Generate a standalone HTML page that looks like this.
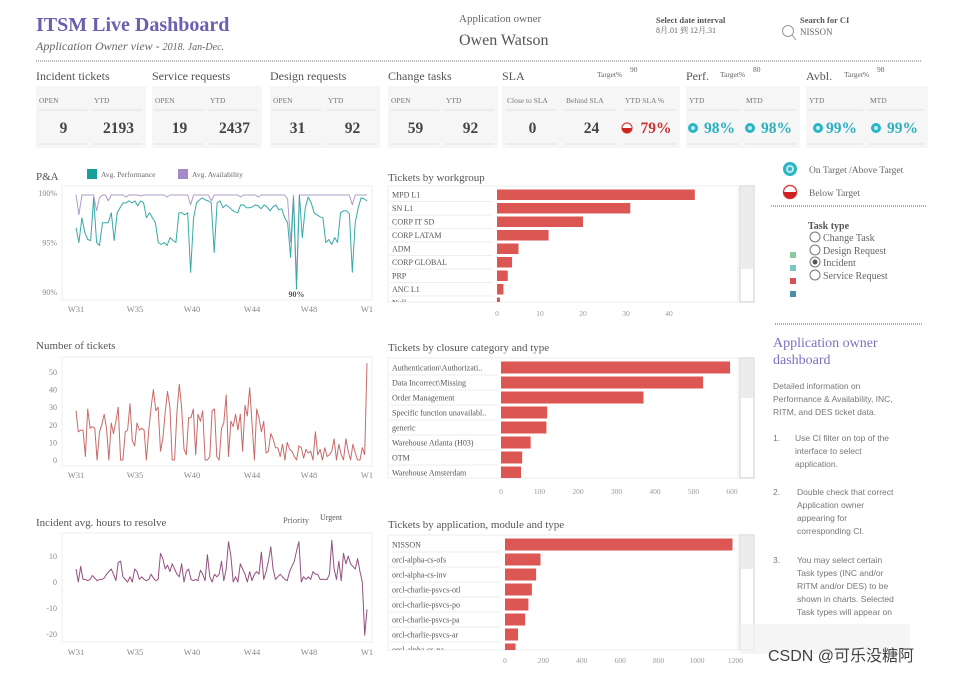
<!DOCTYPE html>
<html><head><meta charset="utf-8"><style>
body{margin:0;background:#fff;width:954px;height:673px;overflow:hidden}
svg{display:block}
.s{font-family:"Liberation Serif","Noto Serif CJK SC",serif}
.a{font-family:"Liberation Sans","Noto Sans CJK SC",sans-serif}
</style></head><body>
<svg id="c" width="954" height="673" viewBox="0 0 954 673" xmlns="http://www.w3.org/2000/svg" class="s">
<g>
<text x="36" y="31" font-size="20" font-weight="bold" fill="#6a5fb0">ITSM Live Dashboard</text>
<text x="36" y="50" font-size="12" font-style="italic" fill="#666">Application Owner view  -  <tspan font-size="10">2018. Jan-Dec.</tspan></text>
<text x="459" y="22" font-size="11" fill="#666">Application owner</text>
<text x="459" y="45" font-size="16" fill="#555">Owen Watson</text>
<text x="656" y="23" font-size="8.5" font-weight="bold" fill="#555">Select date interval</text>
<text x="656" y="33" font-size="8" fill="#666">8月.01 到 12月.31</text>
<g><circle cx="788" cy="31" r="5.5" fill="none" stroke="#999" stroke-width="1"/><line x1="792" y1="35" x2="796" y2="40" stroke="#999"/></g>
<text x="800" y="23" font-size="8.5" font-weight="bold" fill="#555">Search for CI</text>
<text x="800" y="35" font-size="9" fill="#666">NISSON</text>
<line x1="36" y1="61" x2="922" y2="61" stroke="#bbb" stroke-dasharray="1,1" stroke-width="2"/>
</g>
<g id="kpi"></g>
<g id="charts"></g>
<g>
<g><circle cx="790" cy="169" r="7" fill="#2bb5c4"/><circle cx="790" cy="169" r="4" fill="#fff" opacity=".7"/><circle cx="790" cy="169" r="2" fill="#2bb5c4"/>
<text x="809" y="173" font-size="9.5" fill="#666">On Target /Above Target</text></g>
<g><circle cx="790" cy="192" r="6.5" fill="#fff" stroke="#d44" stroke-width="1.5"/><path d="M783.5 192 A6.5 6.5 0 0 0 796.5 192Z" fill="#c22"/>
<text x="809" y="196" font-size="9.5" fill="#666">Below Target</text></g>
<line x1="771" y1="206" x2="926" y2="206" stroke="#aaa" stroke-dasharray="1,1" stroke-width="2"/>
<text x="808" y="229" font-size="10" font-weight="bold" fill="#555">Task type</text>
<g>
<circle cx="815" cy="237" r="5" fill="#fff" stroke="#777"/><text x="823" y="241" font-size="10" fill="#666">Change Task</text>
<circle cx="815" cy="250" r="5" fill="#fff" stroke="#777"/><text x="823" y="254" font-size="10" fill="#666">Design Request</text>
<circle cx="815" cy="262" r="5" fill="#fff" stroke="#777"/><circle cx="815" cy="262" r="2.5" fill="#555"/><text x="823" y="266" font-size="10" fill="#666">Incident</text>
<circle cx="815" cy="275" r="5" fill="#fff" stroke="#777"/><text x="823" y="279" font-size="10" fill="#666">Service Request</text>
</g>
<rect x="790" y="252" width="6" height="6" fill="#8cc8a0"/><rect x="790" y="265" width="6" height="6" fill="#78c8c8"/><rect x="790" y="278" width="6" height="6" fill="#d85050"/><rect x="790" y="291" width="6" height="6" fill="#4a90a8"/>
<line x1="775" y1="324" x2="922" y2="324" stroke="#aaa" stroke-dasharray="1,1" stroke-width="2"/>
<text x="773" y="347" font-size="14" fill="#7a70c0">Application owner</text>
<text x="773" y="364" font-size="14" fill="#7a70c0">dashboard</text>
<g class="a" font-size="8.5" fill="#777">
<text x="773" y="389">Detailed information on</text>
<text x="773" y="402">Performance &amp; Availability, INC,</text>
<text x="773" y="415">RITM, and DES ticket data.</text>
<text x="773" y="441">1.</text><text x="795" y="441">Use CI filter on top of the</text><text x="795" y="454">interface to select</text><text x="795" y="467">application.</text>
<text x="773" y="495">2.</text><text x="797" y="495">Double check that correct</text><text x="797" y="508">Application owner</text><text x="797" y="521">appearing for</text><text x="797" y="534">corresponding CI.</text>
<text x="773" y="563">3.</text><text x="797" y="563">You may select certain</text><text x="797" y="576">Task types (INC and/or</text><text x="797" y="589">RITM and/or DES) to be</text><text x="797" y="602">shown in charts. Selected</text><text x="797" y="615">Task types will appear on</text>
</g>
<rect x="740" y="624" width="170" height="30" fill="#f2f2f2" opacity=".8"/>
<text x="768" y="661" font-size="16" fill="#444" class="a">CSDN @可乐没糖阿</text>
</g>
</svg>
<script>
// ---- data ----
const kpiGroups=["Incident tickets","Service requests","Design requests","Change tasks"];
const kpiOpen=[9,19,31,59];
const kpiYtd=[2193,2437,92,92];
const slaValues=[0,24,79];
const perfValues=[98,98];
const avblValues=[99,99];
const targets=[90,80,98];

const weekLabels=["W31","W35","W40","W44","W48","W1"];
const perfSeries=[96.5,95,97.5,96,95.3,95.2,99.5,95,94.7,97,97,97,98,95.2,98,98.5,99,99,99.2,99,99.2,98.7,99.2,99,97.5,98,97.5,97,95,94.8,95,94.7,95.5,95.2,95,98,98,97.8,98,92,97.5,99,99.3,99.5,99.3,99.2,99,94,99,99.2,98.5,98.8,98.6,98.3,98.1,98,98.8,98.8,98.5,98.5,98.6,98.8,98.7,98.4,98.8,98.6,98.2,98.6,98.8,98.3,98.4,97.5,97,93.5,99.5,90.3,99.8,95.5,98.5,99.6,99,98,97.8,97.6,97.5,95,95.3,94.8,95.5,95,98,98.2,98.2,97.9,92,97,98.5,99.5,99.4,99.2];
const availSeries=[99.8,97.8,99.8,99.8,99.8,99.8,99.8,98.2,99.5,99.8,99.8,99.2,99.8,99.8,99.8,99.8,99.8,99.6,99.8,99.8,99.8,99.8,99.7,99.8,99.8,99.8,99.8,99.8,99.8,99.8,99.8,99.6,99.8,99.8,99.8,99.8,99.8,99.8,99.8,98.8,99.8,99.8,99.8,99.8,99.8,99.8,99.2,99.8,99.8,99.8,99.8,99.8,99.8,99.8,99.8,99.8,99.6,99.8,99.8,99.8,99.8,99.8,99.6,99.8,99.8,99.8,99.8,99.8,99.8,99.8,99.8,99.8,99.4,95,99.8,91,99.8,99.8,99.8,99.8,99.8,99.8,99.8,99.8,99.8,99.8,99.8,99.8,99.8,99.8,99.8,99.8,99.8,99.8,98.8,99.8,99.8,99.8,99.8,99.8];
const ticketSeries=[28,16,17,17,2,29,18,19,18,0,16,20,26,18,0,21,15,22,30,0,0,16,17,32,11,8,21,17,18,17,0,17,30,40,28,30,5,12,27,39,30,0,0,27,43,30,6,3,24,24,29,3,26,22,28,0,0,2,28,29,2,0,18,21,37,2,22,19,26,17,26,5,31,25,41,21,0,29,24,16,22,4,5,15,12,7,7,2,9,0,10,6,5,2,0,8,7,1,6,4,5,0,16,3,6,0,7,2,3,5,12,0,9,3,0,12,5,0,9,4,0,0,7,3,55];
const hourSeries=[5,0,6,1,1,0.5,1,2.5,1.5,0.5,1,1,1.5,3,4,5,3,0.5,7.5,8,2,1,0,2,0,5,4,1,2,1,0.5,1,3,1.5,0.5,1,11,9,5,6.5,4,7,5,3,2,7,0,4,5,1,0.5,1,0.5,4.5,3,0.5,10.5,2,0,3,2,3,8,0.5,5,15.5,10,0,2,0,7,5,3,0,4,0.5,3,4,3,11.5,1,4,8,13.5,5,1,2,3,2,1,0.5,4,6,8,12,15.5,0,2,1,2,1,4,3,3,1,1,1,1,3,16,5,1,8,0.5,11,7,10,7,6,5,9,4,0,-20.5,-10.5];

const wgLabels=["MPD L1","SN L1","CORP IT SD","CORP LATAM","ADM","CORP GLOBAL","PRP","ANC L1","Null"];
const wgValues=[46,31,20,12,5,3.5,2.5,1.5,0.7];
const wgTicks=[0,10,20,30,40];
const clLabels=["Authentication\\Authorizati..","Data Incorrect\\Missing","Order Management","Specific function unavailabl..","generic","Warehouse Atlanta (H03)","OTM","Warehouse Amsterdam"];
const clValues=[595,525,370,120,118,77,55,52];
const clTicks=[0,100,200,300,400,500,600];
const apLabels=["NISSON","orcl-alpha-cs-ofs","orcl-alpha-cs-inv","orcl-charlie-psvcs-otl","orcl-charlie-psvcs-po","orcl-charlie-psvcs-pa","orcl-charlie-psvcs-ar","orcl-alpha-cs-pa"];
const apValues=[1185,185,162,140,122,105,68,55];
const apTicks=[0,200,400,600,800,1000,1200];

const NS="http://www.w3.org/2000/svg";
function mk(tag,attrs,parent,txt){const e=document.createElementNS(NS,tag);for(const k in attrs)e.setAttribute(k,attrs[k]);if(txt!==undefined)e.textContent=txt;parent.appendChild(e);return e;}

// ---- KPI ----
const kpi=document.getElementById('kpi');
function kpiCell(x,w,label,val,color,fs,dx){
  mk('text',{x:x+3,y:103,'font-size':7.5,fill:'#777'},kpi,label);
  mk('line',{x1:x+2,y1:110,x2:x+w-4,y2:110,stroke:'#e2e2e2'},kpi);
  mk('line',{x1:x+2,y1:144,x2:x+w-4,y2:144,stroke:'#e2e2e2'},kpi);
  const t=mk('text',{x:x+w/2+(dx||0),y:133,'font-size':fs,'font-weight':'bold',fill:color,'text-anchor':'middle'},kpi,val);
  
  
  return t;
}
const gx=[36,152,270,388];
kpiGroups.forEach((g,i)=>{
  const x=gx[i];
  const h=mk('text',{x:x,y:80,'font-size':12,fill:'#555'},kpi,g);
  
  
  mk('rect',{x:x,y:86,width:110,height:62,fill:'#f6f6f6'},kpi);
  kpiCell(x,55,'OPEN',kpiOpen[i],'#444',15.5);
  kpiCell(x+55,55,'YTD',kpiYtd[i],'#444',15.5);
});
function hdr(x,t,tg,tx){mk('text',{x:x,y:80,'font-size':12,fill:'#555'},kpi,t);mk('text',{x:tx,y:77,'font-size':7.5,fill:'#666'},kpi,'Target%');mk('text',{x:tx+33,y:72,'font-size':7.5,fill:'#666'},kpi,tg);}
hdr(502,'SLA',targets[0],597);
mk('rect',{x:502,y:86,width:178,height:62,fill:'#f6f6f6'},kpi);
kpiCell(504,57,'Close to SLA',slaValues[0],'#444',15.5);
kpiCell(563,57,'Behind SLA',slaValues[1],'#444',15.5);
kpiCell(622,58,'YTD SLA %',slaValues[2]+'%','#c33',15.5,5);
mk('circle',{cx:627,cy:128,r:5,fill:'#fff',stroke:'#d44','stroke-width':1.2},kpi);
mk('path',{d:'M622 128 A5 5 0 0 0 632 128Z',fill:'#c22'},kpi);
function teal(cx){mk('circle',{cx:cx,cy:128,r:5,fill:'#2bb5c4'},kpi);mk('circle',{cx:cx,cy:128,r:2,fill:'#bfeff3'},kpi);}
hdr(686,'Perf.',targets[1],720);
mk('rect',{x:686,y:86,width:114,height:62,fill:'#f6f6f6'},kpi);
kpiCell(686,57,'YTD',perfValues[0]+'%','#2bb0c0',15.5,5);teal(693);
kpiCell(743,57,'MTD',perfValues[1]+'%','#2bb0c0',15.5,5);teal(750);
hdr(806,'Avbl.',targets[2],844);
mk('rect',{x:806,y:86,width:122,height:62,fill:'#f6f6f6'},kpi);
kpiCell(806,61,'YTD',avblValues[0]+'%','#2bb0c0',15.5,5);teal(818);
kpiCell(867,61,'MTD',avblValues[1]+'%','#2bb0c0',15.5,5);teal(876);

// ---- line charts ----
const ch=document.getElementById('charts');
const X0=76,X1=367;
const weekX=[76,135,192,252,309,367];
function lineChart(name,title,ty,top,bot,yScale,yTicks,yFmt,series,colors,xly){
  const g=mk('g',{},ch);
  
  
  mk('text',{x:36,y:ty,'font-size':11,fill:'#555'},g,title);
  mk('rect',{x:62,y:top,width:310,height:bot-top,fill:'none',stroke:'#eee'},g);
  yTicks.forEach(v=>{const t=mk('text',{x:57,y:yScale(v)+3,'font-size':8,fill:'#888','text-anchor':'end'},g,yFmt(v));});
  weekLabels.forEach((w,i)=>{const t=mk('text',{x:weekX[i],y:xly,'font-size':8.5,fill:'#888','text-anchor':'middle'},g,w);});
  series.forEach((s,k)=>{
    const xs=i=>X0+(X1-X0)*i/(s.length-1);
    const d=s.map((v,i)=>(i?'L':'M')+xs(i).toFixed(1)+' '+yScale(v).toFixed(1)).join('');
    const p=mk('path',{d:d,fill:'none',stroke:colors[k],'stroke-width':1,'stroke-linejoin':'round'},g);
    
    
  });
  return g;
}
const yPA=v=>193+(100-v)*(292-193)/10;
const pa=lineChart('pa-chart','P&A',180,186,300,yPA,[100,95,90],v=>v+'%',[availSeries,perfSeries],['#b09cc8','#35aaa5'],312);
mk('rect',{x:87,y:169,width:10,height:10,fill:'#1a9e9a'},pa);
mk('text',{x:101,y:177,'font-size':7.5,fill:'#666'},pa,'Avg. Performance');
mk('rect',{x:178,y:169,width:10,height:10,fill:'#a58ac8'},pa);
mk('text',{x:192,y:177,'font-size':7.5,fill:'#666'},pa,'Avg. Availability');
const minI=perfSeries.indexOf(Math.min(...perfSeries));
mk('text',{x:X0+(X1-X0)*minI/(perfSeries.length-1),y:yPA(Math.min(...perfSeries))+8,'font-size':8,'font-weight':'bold',fill:'#555','text-anchor':'middle'},pa,Math.round(Math.min(...perfSeries))+'%');

const yTk=v=>460-v*(460-372)/50;
lineChart('tickets-chart','Number of tickets',349,357,466,yTk,[0,10,20,30,40,50],v=>v,[ticketSeries],['#c86a68'],478);
const yHr=v=>582-v*2.6;
const hr=lineChart('hours-chart','Incident avg. hours to resolve',526,533,642,yHr,[10,0,-10,-20],v=>v,[hourSeries],['#94507f'],655);
mk('text',{x:283,y:523,'font-size':8.5,fill:'#666'},hr,'Priority');
mk('text',{x:320,y:520,'font-size':8,fill:'#555'},hr,'Urgent');

// ---- bar charts ----
function barChart(name,title,ty,top,bot,x0,px,labels,values,ticks,rowH,thumbBot,tky){
  const g=mk('g',{},ch);
  
  
  mk('text',{x:388,y:ty,'font-size':11,fill:'#555'},g,title);
  const cid='clip-'+name;
  const cp=mk('clipPath',{id:cid},g);
  mk('rect',{x:388,y:top,width:350,height:bot-top},cp);
  mk('rect',{x:388,y:top,width:350,height:bot-top,fill:'none',stroke:'#eee'},g);
  mk('rect',{x:740,y:top,width:14,height:bot-top,fill:'#fff',stroke:'#ccc'},g);
  mk('rect',{x:741,y:top+1,width:12,height:thumbBot-top,fill:'#ececec'},g);
  const inner=mk('g',{'clip-path':'url(#'+cid+')'},g);
  labels.forEach((l,i)=>{
    const y=top+2+i*rowH;
    mk('text',{x:392,y:y+rowH*0.7,'font-size':8,fill:'#555'},inner,l);
    mk('line',{x1:390,y1:y+rowH,x2:x0-4,y2:y+rowH,stroke:'#eee'},inner);
    const b=mk('rect',{x:x0,y:y+1.5,width:values[i]*px,height:rowH-3,fill:'#dc5653'},inner);
    
    
  });
  ticks.forEach(t=>{const e=mk('text',{x:x0+t*px,y:tky,'font-size':7.5,fill:'#999','text-anchor':'middle'},g,t);});
}
barChart('workgroup-chart','Tickets by workgroup',181,186,302,497,4.3,wgLabels,wgValues,wgTicks,13.5,268,316);
barChart('closure-chart','Tickets by closure category and type',351,358,478,501,0.385,clLabels,clValues,clTicks,15,397,494);
barChart('application-chart','Tickets by application, module and type',528,535,650,505,0.192,apLabels,apValues,apTicks,15,568,663);
</script>
</body></html>
